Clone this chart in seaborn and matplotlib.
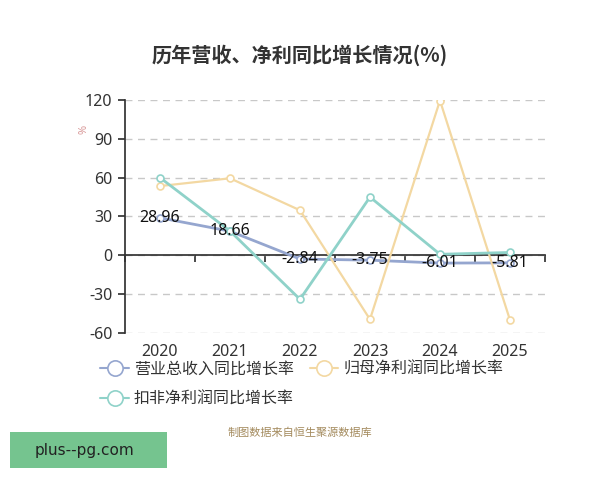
import matplotlib
matplotlib.use('Agg')
import matplotlib.pyplot as plt
import pandas as pd
import seaborn as sns
from matplotlib.patches import Rectangle

years = ['2020', '2021', '2022', '2023', '2024', '2025']
series_names = ['营业总收入同比增长率', '归母净利润同比增长率', '扣非净利润同比增长率']
revenue = [28.96, 18.66, -2.84, -3.75, -6.01, -5.81]
net_profit = [53.5, 59.5, 34.8, -49.5, 119.6, -50.0]
deducted_profit = [60.0, 18.8, -34.0, 45.0, 0.8, 2.2]
colors = ['#95a6cf', '#f3d8a2', '#8fd2c9']

sns.set_theme(style='white')
plt.rcParams['font.family'] = ['Noto Sans', 'Noto Sans CJK SC', 'DejaVu Sans']
plt.rcParams['axes.unicode_minus'] = False

fig = plt.figure(figsize=(6, 4.8), dpi=100)
ax = fig.add_axes([0.2083, 0.3063, 0.7, 0.4854])

for name, vals, c, lw in zip(series_names, [revenue, net_profit, deducted_profit], colors, [2, 1.6, 2]):
    d = pd.DataFrame({'idx': range(len(vals)), 'value': vals})
    sns.lineplot(data=d, x='idx', y='value', color=c, marker='o', markersize=5,
                 markerfacecolor='white', markeredgecolor=c, markeredgewidth=1.2,
                 linewidth=lw, ax=ax, zorder=3)

ax.set_xlim(-0.5, 5.5)
ax.set_ylim(-60, 120)
ax.set_yticks([-60, -30, 0, 30, 60, 90, 120])
ax.yaxis.grid(True, linestyle=(0, (5, 4)), color='#c8c8c8', linewidth=1)
ax.set_axisbelow(True)
for s in ['top', 'right']:
    ax.spines[s].set_visible(False)
ax.spines['left'].set_color('#333333')
ax.spines['bottom'].set_position(('data', 0))
ax.spines['bottom'].set_color('#333333')
ax.set_xticks([i - 0.5 for i in range(7)])
ax.set_xticklabels([])
ax.tick_params(axis='x', direction='out', length=5, color='#333333', bottom=True)
ax.tick_params(axis='y', direction='out', length=5, color='#333333', left=True,
               labelsize=11.5, labelcolor='#333333', pad=4)
ax.set_xlabel('')
ax.set_ylabel('')

sec = ax.secondary_xaxis('bottom')
sec.set_xticks(range(len(years)))
sec.set_xticklabels(years)
sec.tick_params(length=0, labelsize=11.5, labelcolor='#333333', pad=8)
sec.spines['bottom'].set_visible(False)

for i, v in enumerate(revenue):
    ax.text(i, v, f'{v:.2f}', ha='center', va='center', fontsize=11.5, color='#111111', zorder=5)

fig.text(0.14, 0.73, '%', rotation=90, color='#d99a9a', fontsize=8, ha='center', va='center')
fig.text(0.5, 0.885, '历年营收、净利同比增长情况(%)', ha='center', va='center',
         fontsize=14.5, fontweight='bold', color='#333333',
         family=['Noto Sans CJK SC', 'DejaVu Sans'])

handles = [plt.Line2D([], [], color=c, linewidth=1.5, marker='o', markersize=11,
                      markerfacecolor='white', markeredgewidth=1.2) for c in colors]
order = [0, 2, 1]
fig.legend([handles[i] for i in order], [series_names[i] for i in order],
           loc='upper left', bbox_to_anchor=(0.143, 0.276),
           ncol=2, frameon=False, fontsize=11.5, handlelength=1.8, handletextpad=0.3,
           columnspacing=1.0, labelspacing=0.85, labelcolor='#333333')

fig.text(0.5, 0.098, '制图数据来自恒生聚源数据库', ha='center', va='center',
         fontsize=8, color='#a48b5e')
fig.patches.append(Rectangle((10 / 600, 1 - 468 / 480), 157 / 600, 36 / 480,
                             transform=fig.transFigure, facecolor='#75c48f', edgecolor='none'))
fig.text(35 / 600, 1 - 450 / 480, 'plus--pg.com', ha='left', va='center', fontsize=11,
         color='#222222', family=['DejaVu Sans'])

fig.savefig('out.png', dpi=100)
